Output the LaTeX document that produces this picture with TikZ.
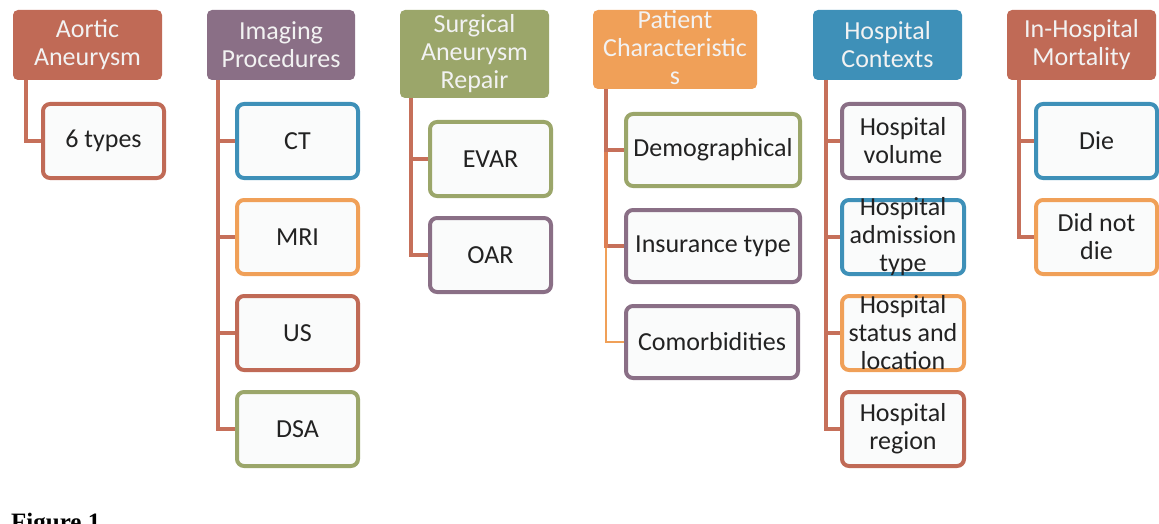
\documentclass[tikz,border=0pt]{standalone}
\usepackage{fontspec}
\setmainfont{Carlito}
\newfontfamily\figfont{Liberation Serif}
\definecolor{rust}{RGB}{192,106,86}
\definecolor{conn}{RGB}{198,112,90}
\definecolor{pconn}{RGB}{222,128,84}
\definecolor{plum}{RGB}{138,111,134}
\definecolor{olive}{RGB}{155,166,106}
\definecolor{orng}{RGB}{240,160,88}
\definecolor{teal}{RGB}{62,144,184}
\definecolor{boxfill}{RGB}{250,251,251}
\definecolor{txtdark}{RGB}{34,34,34}
\definecolor{hdrtxt}{RGB}{242,242,242}
\begin{document}
\begin{tikzpicture}[x=1pt,y=-1pt,
  hdrbox/.style={fill=#1, draw=none, rounded corners=5pt, inner sep=0pt},
  hdrtext/.style={text=hdrtxt, align=center, inner sep=0pt, font=\fontsize{26}{28}\selectfont},
  kidbox/.style={draw=#1, line width=4pt, fill=boxfill, rounded corners=7pt, inner sep=0pt,
     minimum width=121pt, minimum height=74pt},
  kidtext/.style={text=txtdark, align=center, inner sep=0pt, font=\fontsize{26}{28}\selectfont},
  link/.style={draw=conn, line width=4pt},
  plink/.style={draw=pconn, line width=4pt},
  thinlink/.style={draw=orng, line width=2pt},
]
\useasboundingbox (0,0) rectangle (1159,524);
\clip (0,0) rectangle (1159,524);

% ---------- headers ----------
\node[hdrbox=rust, minimum width=149pt, minimum height=70pt] (h1) at (87.5,45) {};
\node[hdrtext] (h1t) at (h1) {Aortic\\Aneurysm};
\node[hdrbox=plum, minimum width=148pt, minimum height=70pt] (h2) at (281,45) {};
\node[hdrtext] (h2t) at (h2) {Imaging\\Procedures};
\node[hdrbox=olive, minimum width=149pt, minimum height=88pt] (h3) at (474.5,54) {};
\node[hdrtext] (h3t) at (h3) {Surgical\\Aneurysm\\Repair};
\node[hdrbox=orng, minimum width=164pt, minimum height=79pt] (h4) at (675,49.5) {};
\node[hdrtext] (h4t) at (675,48) {Patient\\Characteristic\\s};
\node[hdrbox=teal, minimum width=149pt, minimum height=70pt] (h5) at (887.5,45) {};
\node[hdrtext] (h5t) at (h5) {Hospital\\Contexts};
\node[hdrbox=rust, minimum width=149pt, minimum height=70pt] (h6) at (1081.5,45) {};
\node[hdrtext] (h6t) at (h6) {In-Hospital\\Mortality};

% ---------- trunk start points ----------
\coordinate (t1) at (26,80);
\coordinate (t2) at (218,80);
\coordinate (t3) at (411,98);
\coordinate (t4) at (606,89);
\coordinate (t5) at (826,80);
\coordinate (t6) at (1019,80);

% ---------- connector end points ----------
\coordinate (a1) at (41,141);
\coordinate (b1) at (235,141);
\coordinate (b2) at (235,237);
\coordinate (b3) at (235,333);
\coordinate (b4) at (235,429);
\coordinate (c1) at (428,159);
\coordinate (c2) at (428,255);
\coordinate (d1) at (624,150);
\coordinate (d2) at (624,246);
\coordinate (d3) at (624,342);
\coordinate (e1) at (840,141);
\coordinate (e2) at (840,237);
\coordinate (e3) at (840,333);
\coordinate (e4) at (840,429);
\coordinate (f1) at (1034,141);
\coordinate (f2) at (1034,237);

\draw[link] (t1) |- (a1);
\draw[link] (t2) |- (b4);
\draw[link] (t2) |- (b1);
\draw[link] (t2) |- (b2);
\draw[link] (t2) |- (b3);
\draw[link] (t3) |- (c2);
\draw[link] (t3) |- (c1);
\draw[thinlink] (t4) |- (d3);
\draw[plink] (t4) |- (d2);
\draw[link] (t4) |- (d1);
\draw[link] ([xshift=2pt]t4 |- d2) -- (d2);
\draw[link] (t5) |- (e4);
\draw[link] (t5) |- (e1);
\draw[link] (t5) |- (e2);
\draw[link] (t5) |- (e3);
\draw[link] (t6) |- (f2);
\draw[link] (t6) |- (f1);

% ---------- children ----------
\node[kidbox=rust] (k11) at (103.5,141) {};
\node[kidtext] (k11t) at (k11) {6 types};

\node[kidbox=teal] (k21) at (297.5,141) {};
\node[kidtext] (k21t) at (k21) {CT};
\node[kidbox=orng] (k22) at (297.5,237) {};
\node[kidtext] (k22t) at (k22) {MRI};
\node[kidbox=rust] (k23) at (297.5,333) {};
\node[kidtext] (k23t) at (k23) {US};
\node[kidbox=olive] (k24) at (297.5,429) {};
\node[kidtext] (k24t) at (k24) {DSA};

\node[kidbox=olive] (k31) at (490.5,159) {};
\node[kidtext] (k31t) at (k31) {EVAR};
\node[kidbox=plum] (k32) at (490.5,255) {};
\node[kidtext] (k32t) at (k32) {OAR};

\node[kidbox=olive, minimum width=174pt, minimum height=72pt] (k41) at (713,150) {};
\node[kidtext] (k41t) at (k41) {Demographical};
\node[kidbox=plum, minimum width=174pt, minimum height=72pt] (k42) at (713,246) {};
\node[kidtext] (k42t) at (k42) {Insurance type};
\node[kidbox=plum, minimum width=172pt, minimum height=72pt] (k43) at (712,342) {};
\node[kidtext] (k43t) at (k43) {Comorbidities};

\node[kidbox=plum, minimum width=122pt] (k51) at (903,141) {};
\node[kidtext] (k51t) at (k51) {Hospital\\volume};
\node[kidbox=teal, minimum width=122pt] (k52) at (903,237) {};
\node[kidtext] (k52t) at (k52) {Hospital\\admission\\type};
\node[kidbox=orng, minimum width=122pt] (k53) at (903,333) {};
\node[kidtext] (k53t) at (k53) {Hospital\\status and\\location};
\node[kidbox=rust, minimum width=122pt] (k54) at (903,429) {};
\node[kidtext] (k54t) at (k54) {Hospital\\region};

\node[kidbox=teal] (k61) at (1096.5,141) {};
\node[kidtext] (k61t) at (k61) {Die};
\node[kidbox=orng] (k62) at (1096.5,237) {};
\node[kidtext] (k62t) at (k62) {Did not\\die};

% ---------- caption (cut by the frame, as in the reference) ----------
\node[anchor=base west, inner sep=0pt, font=\figfont\bfseries\fontsize{25}{28}\selectfont, text=black] (cap) at (11,530) {Figure 1};
\end{tikzpicture}
\end{document}
